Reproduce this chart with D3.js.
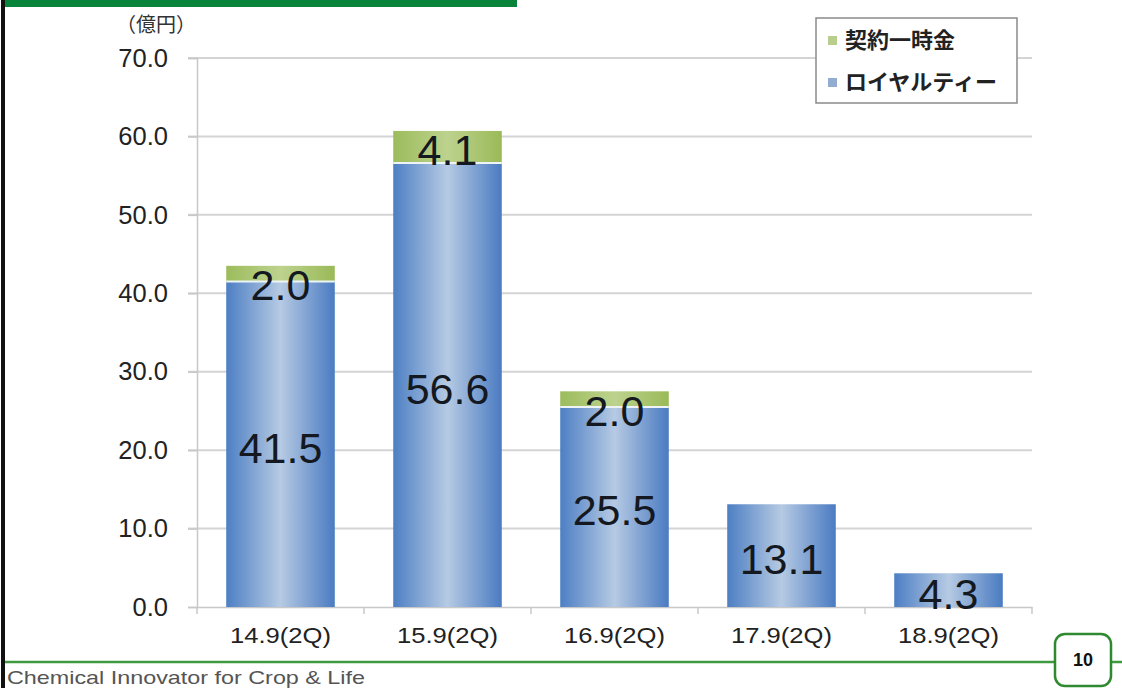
<!DOCTYPE html>
<html>
<head>
<meta charset="utf-8">
<script src="https://cdn.jsdelivr.net/npm/d3@7"></script>
<style>
  html, body { margin: 0; padding: 0; background: #fff; }
  svg { display: block; }
  text { font-family: "Liberation Sans", Arial, sans-serif; }
  .jp { font-family: "Noto Sans CJK JP", "Liberation Sans", sans-serif; }
</style>
</head>
<body>
<svg id="chart" width="1122" height="688"></svg>
<script>
// Period labels (fiscal half-year)
const categories = ["14.9(2Q)", "15.9(2Q)", "16.9(2Q)", "17.9(2Q)", "18.9(2Q)"];
// Royalty income (億円)
const royalty = [41.5, 56.6, 25.5, 13.1, 4.3];
// One-time contract payments (億円)
const upfront = [2.0, 4.1, 2.0, 0, 0];
// Series names
const seriesNames = ["契約一時金", "ロイヤルティー"];
// Y axis ticks
const yTicks = [0, 10, 20, 30, 40, 50, 60, 70];

const svg = d3.select("#chart");
const W = 1122, H = 688;
const plot = { left: 197, right: 1032, top: 58, bottom: 607 };

const x = d3.scaleBand().domain(categories).range([plot.left, plot.right]).paddingInner(0.35).paddingOuter(0.175);
const y = d3.scaleLinear().domain([0, 70]).range([plot.bottom, plot.top]);

// gradients
const defs = svg.append("defs");
const gBlue = defs.append("linearGradient").attr("id", "gBlue").attr("x1", "0").attr("x2", "1").attr("y1", "0").attr("y2", "0");
gBlue.append("stop").attr("offset", "0%").attr("stop-color", "#4d7fc4");
gBlue.append("stop").attr("offset", "50%").attr("stop-color", "#b6cae3");
gBlue.append("stop").attr("offset", "100%").attr("stop-color", "#4a7bc2");
const gGreen = defs.append("linearGradient").attr("id", "gGreen").attr("x1", "0").attr("x2", "1").attr("y1", "0").attr("y2", "0");
gGreen.append("stop").attr("offset", "0%").attr("stop-color", "#9cbc5c");
gGreen.append("stop").attr("offset", "50%").attr("stop-color", "#bdd28e");
gGreen.append("stop").attr("offset", "100%").attr("stop-color", "#9aba58");

// page frame: left rule, header band
svg.append("rect").attr("x", 1).attr("y", 0).attr("width", 4).attr("height", H).attr("fill", "#111");
svg.append("rect").attr("x", 5).attr("y", 0).attr("width", 512).attr("height", 7).attr("fill", "#08843a");

// gridlines
svg.append("g").selectAll("line").data(yTicks.slice(1)).join("line")
  .attr("x1", plot.left - 9).attr("x2", plot.right)
  .attr("y1", d => y(d)).attr("y2", d => y(d))
  .attr("stroke", "#d4d4d4").attr("stroke-width", 2);

// y axis
const yAxis = d3.axisLeft(y).tickValues(yTicks).tickFormat(d3.format(".1f")).tickSize(9).tickPadding(20);
const gy = svg.append("g").attr("transform", `translate(${plot.left},0)`).call(yAxis);
gy.select(".domain").attr("stroke", "#c8c8c8").attr("stroke-width", 1.5);
gy.selectAll(".tick line").attr("stroke", "#c8c8c8").attr("stroke-width", 1.5);
gy.selectAll(".tick text").attr("font-size", 25.5).attr("fill", "#222")
  .style("font-family", "'Liberation Sans', Arial, sans-serif");

// x axis
const xAxis = d3.axisBottom(x).tickSize(0).tickPadding(20);
const gx = svg.append("g").attr("transform", `translate(0,${plot.bottom})`).call(xAxis);
gx.select(".domain").attr("stroke", "#c8c8c8").attr("stroke-width", 1.5);
gx.selectAll(".tick text").attr("font-size", 22).attr("fill", "#222")
  .attr("textLength", 101).attr("lengthAdjust", "spacingAndGlyphs")
  .style("font-family", "'Liberation Sans', Arial, sans-serif");
// category boundary ticks
const step = x.step();
gx.append("g").selectAll("line").data(d3.range(categories.length + 1)).join("line")
  .attr("x1", i => plot.left + i * step).attr("x2", i => plot.left + i * step)
  .attr("y1", 0).attr("y2", 7).attr("stroke", "#c8c8c8").attr("stroke-width", 1.5);

// bars
const bars = svg.append("g");
categories.forEach((c, i) => {
  const r = royalty[i], u = upfront[i];
  bars.append("rect").attr("x", x(c)).attr("width", x.bandwidth())
    .attr("y", y(r)).attr("height", y(0) - y(r)).attr("fill", "url(#gBlue)");
  if (u > 0) {
    bars.append("rect").attr("x", x(c)).attr("width", x.bandwidth())
      .attr("y", y(r + u)).attr("height", y(r) - y(r + u)).attr("fill", "url(#gGreen)");
    bars.append("line").attr("x1", x(c)).attr("x2", x(c) + x.bandwidth())
      .attr("y1", y(r)).attr("y2", y(r)).attr("stroke", "#eef3f6").attr("stroke-width", 2);
  }
});

// value labels
const labels = svg.append("g").attr("font-size", 43).attr("fill", "#141820").attr("text-anchor", "middle");
categories.forEach((c, i) => {
  const r = royalty[i], u = upfront[i];
  const cx = x(c) + x.bandwidth() / 2;
  labels.append("text").attr("x", cx).attr("y", (y(0) + y(r)) / 2 + 3)
    .attr("dy", "0.36em").text(d3.format(".1f")(r));
  if (u > 0) {
    labels.append("text").attr("x", cx).attr("y", y(r + u) + 19)
      .attr("dy", "0.36em").text(d3.format(".1f")(u));
  }
});

// unit label
svg.append("text").attr("class", "jp").attr("x", 116).attr("y", 32)
  .attr("font-size", 20).attr("fill", "#333").text("（億円）");

// legend
const lg = svg.append("g");
lg.append("rect").attr("x", 816).attr("y", 18).attr("width", 201).attr("height", 85)
  .attr("fill", "#fff").attr("stroke", "#8a8a8a").attr("stroke-width", 1.5);
seriesNames.forEach((n, i) => {
  const cy = 40 + i * 42;
  lg.append("rect").attr("x", 828).attr("y", cy - 4).attr("width", 9).attr("height", 9)
    .attr("fill", i === 0 ? "#b9cd8c" : "#93acd2");
  lg.append("text").attr("class", "jp").attr("x", 845).attr("y", cy).attr("dy", "0.36em")
    .attr("font-size", 22).attr("font-weight", "bold").attr("fill", "#222").text(n);
});

// footer
svg.append("line").attr("x1", 5).attr("x2", W).attr("y1", 662).attr("y2", 662)
  .attr("stroke", "#3f9a3f").attr("stroke-width", 2.5);
svg.append("rect").attr("x", 1055).attr("y", 634).attr("width", 56).attr("height", 52)
  .attr("rx", 10).attr("fill", "#fff").attr("stroke", "#2f8a2f").attr("stroke-width", 2.5);
svg.append("text").attr("x", 1083).attr("y", 660).attr("dy", "0.36em").attr("text-anchor", "middle")
  .attr("font-size", 18).attr("font-weight", "bold").attr("fill", "#111").text("10");
svg.append("text").attr("x", 7).attr("y", 684).attr("font-size", 18.5).attr("fill", "#555")
  .attr("textLength", 358).attr("lengthAdjust", "spacingAndGlyphs")
  .text("Chemical Innovator for Crop & Life");
</script>
</body>
</html>
